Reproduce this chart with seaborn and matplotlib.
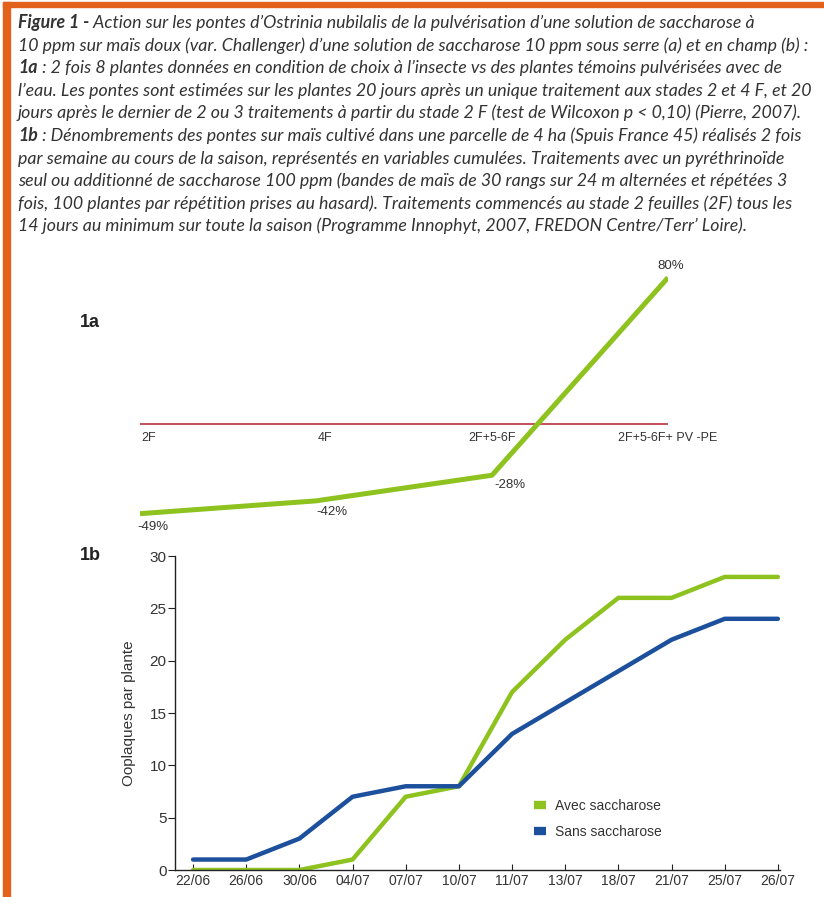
import pandas as pd
import seaborn as sns
import matplotlib.pyplot as plt
from matplotlib.patches import Rectangle
from matplotlib.lines import Line2D
from matplotlib.text import Annotation

sns.set_theme(style="white")
NARROW = ['Liberation Sans Narrow', 'Liberation Sans', 'DejaVu Sans']
plt.rcParams['font.family'] = NARROW

# --- data 1a
stades = ["2F", "4F", "2F+5-6F", "2F+5-6F+ PV -PE"]
effet = [-49, -42, -28, 80]

# --- data 1b
dates = ["22/06", "26/06", "30/06", "04/07", "07/07", "10/07",
         "11/07", "13/07", "18/07", "21/07", "25/07", "26/07"]
avec = [0, 0, 0, 1, 7, 8, 17, 22, 26, 26, 28, 28]
sans = [1, 1, 3, 7, 8, 8, 13, 16, 19, 22, 24, 24]

GREEN = "#8dc21f"
BLUE = "#1c4f9c"
ORANGE = "#e2621b"
TXT = "#333333"

W, H = 824, 897
fig = plt.figure(figsize=(W / 100, H / 100), dpi=100)
fig.patch.set_facecolor("white")

def px(x0, y0, x1, y1):
    # pixel box (top-left origin) -> figure fraction rect
    return [x0 / W, 1 - y1 / H, (x1 - x0) / W, (y1 - y0) / H]

# orange frame
fig.patches.append(Rectangle((3 / W, 0), 7 / W, 1 - 2 / H, transform=fig.transFigure,
                             color=ORANGE, zorder=0))
fig.patches.append(Rectangle((3 / W, 1 - 7 / H), 1 - 3 / W, 5 / H, transform=fig.transFigure,
                             color=ORANGE, zorder=0))

# caption
caption = [
    ("Figure 1 -", " Action sur les pontes d’Ostrinia nubilalis de la pulvérisation d’une solution de saccharose à"),
    ("", "10 ppm sur maïs doux (var. Challenger) d’une solution de saccharose 10 ppm sous serre (a) et en champ (b) :"),
    ("1a", " : 2 fois 8 plantes données en condition de choix à l’insecte vs des plantes témoins pulvérisées avec de"),
    ("", "l’eau. Les pontes sont estimées sur les plantes 20 jours après un unique traitement aux stades 2 et 4 F, et 20"),
    ("", "jours après le dernier de 2 ou 3 traitements à partir du stade 2 F (test de Wilcoxon p < 0,10) (Pierre, 2007)."),
    ("1b", " : Dénombrements des pontes sur maïs cultivé dans une parcelle de 4 ha (Spuis France 45) réalisés 2 fois"),
    ("", "par semaine au cours de la saison, représentés en variables cumulées. Traitements avec un pyréthrinoïde"),
    ("", "seul ou additionné de saccharose 100 ppm (bandes de maïs de 30 rangs sur 24 m alternées et répétées 3"),
    ("", "fois, 100 plantes par répétition prises au hasard). Traitements commencés au stade 2 feuilles (2F) tous les"),
    ("", "14 jours au minimum sur toute la saison (Programme Innophyt, 2007, FREDON Centre/Terr’ Loire)."),
]
cap_font = dict(family=['Lato', 'DejaVu Sans'], style='italic', fontsize=12.8, color=TXT)
for i, (bold, rest) in enumerate(caption):
    y = 1 - (31 + 22.6 * i) / H
    if bold:
        t = fig.text(18 / W, y, bold, fontweight='bold', va='bottom', **cap_font)
        ann = Annotation(rest, xy=(1, 0), xycoords=t, va='bottom', ha='left',
                         annotation_clip=False, fontweight='normal', **cap_font)
        fig.add_artist(ann)
    else:
        fig.text(18 / W, y, rest, va='bottom', **cap_font)

# ---------------- 1a
ax1 = fig.add_axes(px(140, 250, 668, 540))
df1 = pd.DataFrame({"pos": range(len(stades)), "effet": effet})
sns.lineplot(data=df1, x="pos", y="effet", color=GREEN, lw=3.6, ax=ax1,
             solid_capstyle='butt', zorder=3)
ax1.axhline(0, xmin=0, xmax=1.004, color="#b8323f", lw=1.2, zorder=2)
ax1.set_xlim(0, len(stades) - 1)
ax1.set_ylim(-(540 - 424) / 1.83, (424 - 250) / 1.83)
ax1.axis('off')
for i, s in enumerate(stades):
    ha = 'left' if i < 2 else 'center'
    ax1.annotate(s, (i, 0), xytext=(1 if i < 2 else 0, -6), textcoords='offset points',
                 ha=ha, va='top', fontsize=9, color=TXT)
offs = [(-2, -5, 'left', 'top'), (0, -4, 'left', 'top'), (2, -3, 'left', 'top'), (2, 4, 'center', 'bottom')]
for i, v in enumerate(effet):
    dx, dy, ha, va = offs[i]
    ax1.annotate(f"{v}%", (i, v), xytext=(dx, dy), textcoords='offset points',
                 ha=ha, va=va, fontsize=9.5, color=TXT)

fig.text(80 / W, 1 - 322 / H, "1a", family=['Liberation Sans', 'DejaVu Sans'],
         fontweight='bold', fontsize=13, color="#222222", va='center')
fig.text(80 / W, 1 - 556 / H, "1b", family=['Liberation Sans', 'DejaVu Sans'],
         fontweight='bold', fontsize=13, color="#222222", va='center')

# ---------------- 1b
ax2 = fig.add_axes(px(175, 556, 780, 870))
df2 = pd.DataFrame({
    "pos": list(range(len(dates))) * 2,
    "val": avec + sans,
    "serie": ["Avec saccharose"] * len(dates) + ["Sans saccharose"] * len(dates),
})
sns.lineplot(data=df2, x="pos", y="val", hue="serie",
             palette={"Avec saccharose": GREEN, "Sans saccharose": BLUE},
             lw=3.2, ax=ax2, legend=False)
ax2.set_xlim(-0.34, len(dates) - 1 + 0.04)
ax2.set_ylim(0, 30)
ax2.set_yticks(range(0, 31, 5))
ax2.set_xticks(range(len(dates)))
ax2.set_xticklabels(dates)
for sp in ["top", "right"]:
    ax2.spines[sp].set_visible(False)
for sp in ["left", "bottom"]:
    ax2.spines[sp].set_color("#222222")
    ax2.spines[sp].set_linewidth(1.0)
ax2.tick_params(axis='y', direction='out', length=5, width=0.8, color="#222222",
                labelsize=11, labelcolor=TXT, pad=1, left=True)
ax2.tick_params(axis='x', direction='in', length=4, width=0.8, color="#222222",
                labelsize=10, labelcolor=TXT, pad=3, bottom=True)
ax2.set_xlabel("")
ax2.set_ylabel("Ooplaques par plante", fontsize=11, color=TXT, labelpad=10)

handles = [Line2D([0], [0], color=GREEN, lw=6, solid_capstyle='butt'),
           Line2D([0], [0], color=BLUE, lw=6, solid_capstyle='butt')]
ax2.legend(handles, ["Avec saccharose", "Sans saccharose"], loc='upper left',
           bbox_to_anchor=((527 - 175) / 605, (870 - 792) / 314), frameon=False,
           handlelength=0.9, handletextpad=0.6, fontsize=10, labelcolor=TXT,
           labelspacing=0.85, borderpad=0)

fig.savefig("out.png", dpi=100)
